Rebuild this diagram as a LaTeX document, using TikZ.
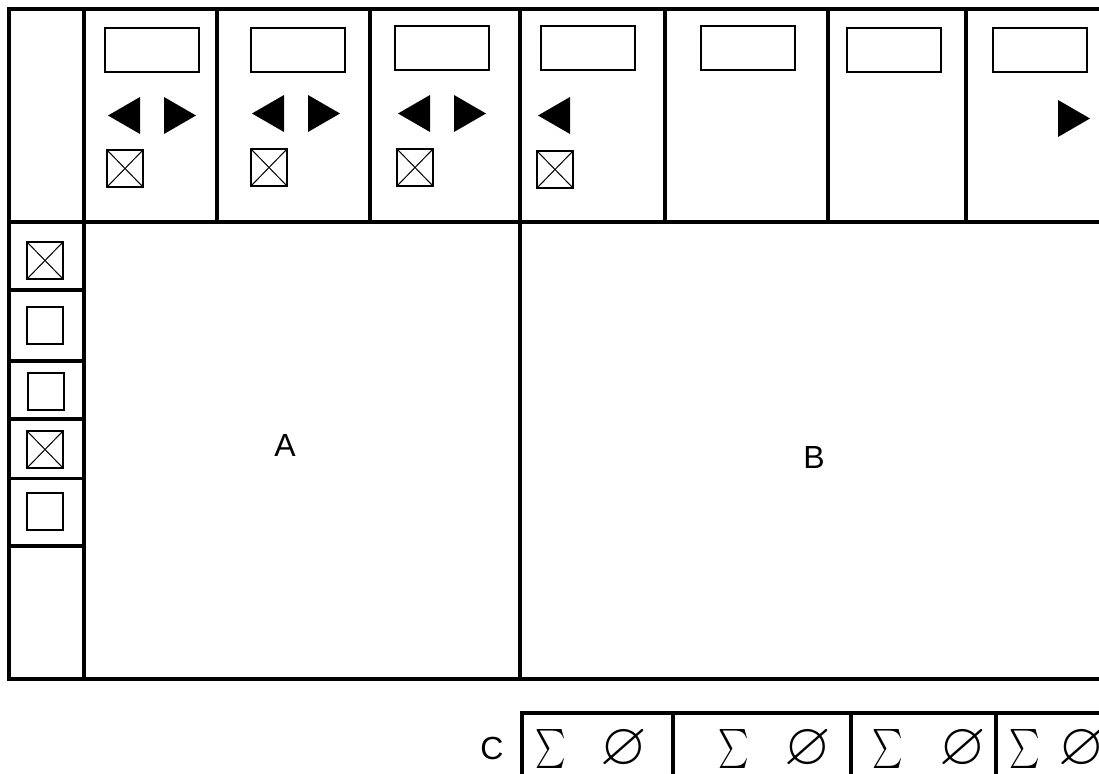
\documentclass[tikz,border=0pt]{standalone}
\usepackage{fontspec}
\usepackage{amssymb}
\setmainfont{Liberation Sans}

\begin{document}
\begin{tikzpicture}[
    x=1pt, y=-1pt,
    frame/.style={draw, line width=4pt},
    rowline/.style={draw, line width=3.5pt},
    field/.style={draw, line width=2pt},
    tickbox/.style={draw, line width=2.5pt},
    cross/.style={draw, line width=1pt},
    arrowhead/.style={fill=black},
    every node/.style={inner sep=0pt, outer sep=0pt},
    letter/.style={font=\fontsize{32}{36}\selectfont},
    symb/.style={font=\fontsize{10}{12}\selectfont}
]

  \useasboundingbox (0,0) rectangle (1099,773);
  \clip (0,0) rectangle (1099,773);

  % outer frame and the two panes
  \draw[frame] (1110,9) -- (8.5,9) -- (8.5,679) -- (1110,679);
  \draw[frame] (8.5,222) -- (1110,222);
  \foreach \x in {217,370,665,828,966}
    \draw[frame] (\x,9) -- (\x,222);
  \foreach \x in {84,520}
    \draw[frame] (\x,9) -- (\x,679);
  \foreach \y in {290,361,419,478.5,546}
    \draw[rowline] (8.5,\y) -- (84,\y);

  % header fields
  \foreach \x/\y in {105/28,251/28,395/26,541/26,701/26,847/28,993/28}
    \draw[field] (\x,\y) rectangle ++(94,44);

  % arrows
  \foreach \x/\y in {108/97,252/95,398/95,538/97}
    \fill[arrowhead] (\x,\y+18.5) -- (\x+32,\y) -- (\x+32,\y+37) -- cycle;
  \foreach \x/\y in {164/97,308/95,454/95,1058/100}
    \fill[arrowhead] (\x,\y) -- (\x+32,\y+18.5) -- (\x,\y+37) -- cycle;

  % check boxes
  \foreach \x/\y in {107/150,251/149,397/149,537/151,27/242,27/431} {
    \draw[cross] (\x,\y) -- ++(36,37) (\x+36,\y) -- ++(-36,37);
    \draw[tickbox] (\x,\y) rectangle ++(36,37);
  }
  \foreach \x/\y in {27/307,28/373,27/493}
    \draw[tickbox] (\x,\y) rectangle ++(36,37);

  % pane labels
  \node[letter] (paneA) at (285,445) {A};
  \node[letter] (paneB) at (814,457) {B};
  \node[letter] (paneC) at (492,748) {C};

  % bottom strip
  \draw[frame] (1110,713) -- (522,713) -- (522,780);
  \foreach \x in {673,851,996}
    \draw[frame] (\x,713) -- (\x,780);
  \foreach \x/\name in {550.5/1,733.5/2,887.5/3,1024.5/4}
    \node[symb] (sum\name) at (\x,748.5) {\scalebox{2.9}[3.9]{$\sum$}};
  \foreach \x/\name in {624/1,808/2,962.5/3,1082/4}
    \node[symb] (empty\name) at (\x,749) {\scalebox{6}{$\varnothing$}};

\end{tikzpicture}
\end{document}
